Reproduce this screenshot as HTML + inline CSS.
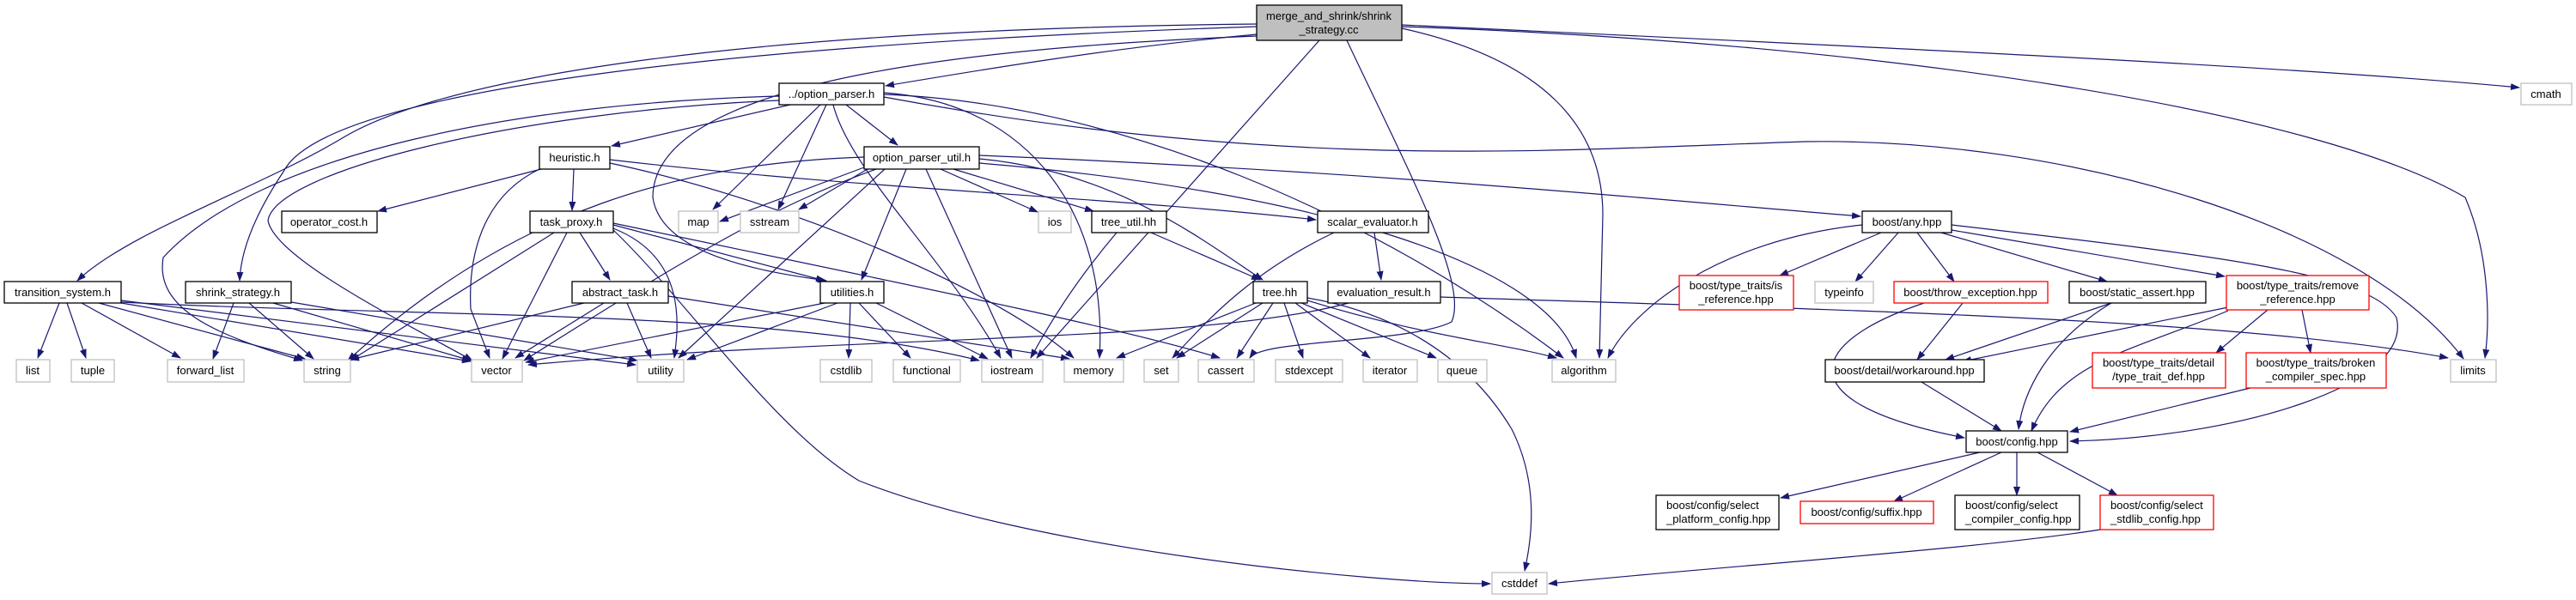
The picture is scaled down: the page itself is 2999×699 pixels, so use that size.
<!DOCTYPE html>
<html><head><meta charset="utf-8"><style>
html,body{margin:0;padding:0;background:#fff;}
svg{display:block;}
text{font-family:"Liberation Sans",Helvetica,Arial,sans-serif;font-size:13px;fill:#000;}
.e{fill:none;stroke:#191970;stroke-width:1.2;marker-end:url(#a);}
.b{fill:#fff;stroke:#000;stroke-width:1.3;}
.g{fill:#fff;stroke:#bfbfbf;stroke-width:1.3;}
.r{fill:#fff;stroke:#ff0000;stroke-width:1.3;}
</style></head><body>
<svg width="2999" height="699" viewBox="0 0 2999 699" xmlns="http://www.w3.org/2000/svg">
<defs><marker id="a" markerWidth="11" markerHeight="8" refX="10" refY="4" orient="auto" markerUnits="userSpaceOnUse"><path d="M0,0 L11,4 L0,8 z" fill="#191970"/></marker></defs>

<!-- edges root -->
<path class="e" d="M1463,40 C1300,55 1150,80 1031,100"/>
<path class="e" d="M1463,28 C800,35 500,100 400,160 C300,220 150,270 90,327"/>
<path class="e" d="M1463,31 C900,50 380,100 330,200 C290,260 280,300 279,327"/>
<path class="e" d="M1463,42 C1000,60 760,120 760,230 C770,300 900,318 962,327"/>
<path class="e" d="M1536,47 L1207,417"/>
<path class="e" d="M1568,47 C1640,200 1710,330 1690,375 C1640,400 1470,395 1455,417"/>
<path class="e" d="M1632,33 C1800,70 1866,150 1866,250 L1862,417"/>
<path class="e" d="M1632,29 C2300,60 2700,80 2933,102"/>
<path class="e" d="M1632,31 C2200,50 2700,130 2870,230 C2900,300 2898,380 2893,417"/>
<!-- option_parser.h -->
<path class="e" d="M920,122 L712,170"/>
<path class="e" d="M985,122 L1045,169"/>
<path class="e" d="M955,122 L830,244"/>
<path class="e" d="M962,122 L906,244"/>
<path class="e" d="M907,112 C600,120 300,180 190,300 C180,360 250,390 352,420"/>
<path class="e" d="M907,117 C600,130 320,200 312,257 C320,300 460,370 550,420"/>
<path class="e" d="M970,122 C990,200 1100,300 1165,417"/>
<path class="e" d="M1029,108 C1200,120 1290,250 1280,417"/>
<path class="e" d="M1029,110 C1300,120 1600,250 1820,417"/>
<path class="e" d="M1029,113 C1500,200 1800,175 2100,165 C2400,160 2750,260 2868,418"/>
<!-- heuristic -->
<path class="e" d="M630,197 L440,246"/>
<path class="e" d="M668,197 L666,245"/>
<path class="e" d="M628,197 C560,230 545,300 548,360 L570,417"/>
<path class="e" d="M710,190 C900,230 1150,330 1250,417"/>
<path class="e" d="M710,186 C1000,220 1300,230 1532,256"/>
<!-- option_parser_util -->
<path class="e" d="M1006,195 L838,258"/>
<path class="e" d="M1010,197 L930,244"/>
<path class="e" d="M1095,197 L1208,247"/>
<path class="e" d="M1110,197 L1273,246"/>
<path class="e" d="M1140,185 C1300,200 1400,280 1470,326"/>
<path class="e" d="M1140,181 C1600,200 1900,230 2166,252"/>
<path class="e" d="M1055,197 L1003,326"/>
<path class="e" d="M1006,183 C800,190 600,240 405,420"/>
<path class="e" d="M1020,197 C900,240 800,300 610,420"/>
<path class="e" d="M1030,197 L790,417"/>
<path class="e" d="M1078,197 L1178,417"/>
<path class="e" d="M1140,190 C1500,220 1800,300 1835,417"/>
<!-- task_proxy -->
<path class="e" d="M675,271 L710,326"/>
<path class="e" d="M714,262 L960,327"/>
<path class="e" d="M645,271 L408,420"/>
<path class="e" d="M660,271 L585,418"/>
<path class="e" d="M714,266 C800,300 790,380 785,417"/>
<path class="e" d="M714,268 C800,350 900,500 1000,560 C1200,640 1600,680 1735,680"/>
<path class="e" d="M714,260 C1000,320 1300,380 1420,417"/>
<!-- transition_system -->
<path class="e" d="M69,353 L44,417"/>
<path class="e" d="M78,353 L100,417"/>
<path class="e" d="M95,353 L210,417"/>
<path class="e" d="M115,353 L355,418"/>
<path class="e" d="M141,353 L548,421"/>
<path class="e" d="M141,350 L740,425"/>
<path class="e" d="M141,352 C500,370 900,360 1140,420"/>
<!-- shrink_strategy -->
<path class="e" d="M272,353 L248,418"/>
<path class="e" d="M290,353 L365,418"/>
<path class="e" d="M318,353 L548,420"/>
<path class="e" d="M339,352 L742,420"/>
<!-- abstract_task -->
<path class="e" d="M680,353 L408,419"/>
<path class="e" d="M703,353 L600,417"/>
<path class="e" d="M730,353 L758,417"/>
<path class="e" d="M778,345 L1245,418"/>
<!-- utilities -->
<path class="e" d="M960,353 L612,422"/>
<path class="e" d="M975,353 L800,419"/>
<path class="e" d="M990,353 L988,417"/>
<path class="e" d="M1000,353 L1060,417"/>
<path class="e" d="M1020,353 L1150,418"/>
<!-- tree_util -->
<path class="e" d="M1340,271 L1467,326"/>
<path class="e" d="M1300,271 C1250,330 1220,380 1200,417"/>
<!-- scalar -->
<path class="e" d="M1600,271 L1608,326"/>
<path class="e" d="M1553,271 C1450,320 1400,380 1365,417"/>
<!-- evaluation_result -->
<path class="e" d="M1677,346 C2100,360 2600,370 2850,417"/>
<path class="e" d="M1570,353 C1400,400 1000,390 615,425"/>
<!-- tree -->
<path class="e" d="M1462,353 L1300,417"/>
<path class="e" d="M1470,353 L1370,417"/>
<path class="e" d="M1482,353 L1440,417"/>
<path class="e" d="M1495,353 L1517,417"/>
<path class="e" d="M1508,353 L1595,417"/>
<path class="e" d="M1515,353 L1672,417"/>
<path class="e" d="M1522,350 C1650,390 1750,400 1812,417"/>
<path class="e" d="M1522,347 C1600,360 1700,400 1760,500 C1790,560 1785,620 1775,665"/>
<!-- boost/any -->
<path class="e" d="M2190,271 L2072,321"/>
<path class="e" d="M2210,271 L2160,328"/>
<path class="e" d="M2232,271 L2275,328"/>
<path class="e" d="M2260,271 L2453,328"/>
<path class="e" d="M2272,268 L2590,322"/>
<path class="e" d="M2168,262 C2000,280 1900,360 1872,417"/>
<path class="e" d="M2272,262 C2600,300 2760,320 2790,370 C2810,450 2600,510 2410,514"/>
<!-- throw/static/remove -->
<path class="e" d="M2285,353 L2232,419"/>
<path class="e" d="M2240,353 C2100,400 2080,470 2287,510"/>
<path class="e" d="M2458,353 L2265,419"/>
<path class="e" d="M2458,353 C2380,400 2355,460 2350,500"/>
<path class="e" d="M2594,358 L2285,421"/>
<path class="e" d="M2594,362 C2480,410 2400,420 2365,502"/>
<path class="e" d="M2640,361 L2580,411"/>
<path class="e" d="M2680,361 L2690,411"/>
<path class="e" d="M2237,445 L2330,502"/>
<path class="e" d="M2620,452 L2410,503"/>
<!-- config -->
<path class="e" d="M2305,527 L2073,580"/>
<path class="e" d="M2330,527 L2205,584"/>
<path class="e" d="M2348,527 L2348,577"/>
<path class="e" d="M2372,527 L2465,577"/>
<path class="e" d="M2445,617 C2300,640 2000,660 1803,680"/>

<!-- nodes -->
<g text-anchor="middle">
<rect x="1463" y="6" width="169" height="41" fill="#bfbfbf" stroke="#000" stroke-width="1.3"/>
<text x="1547" y="23">merge_and_shrink/shrink</text><text x="1547" y="39">_strategy.cc</text>

<rect class="b" x="907" y="97" width="122" height="25"/><text x="968" y="114">../option_parser.h</text>
<rect class="g" x="2935" y="97" width="59" height="25"/><text x="2964" y="114">cmath</text>
<rect class="b" x="628" y="171" width="82" height="26"/><text x="669" y="188">heuristic.h</text>
<rect class="b" x="1006" y="171" width="134" height="26"/><text x="1073" y="188">option_parser_util.h</text>

<rect class="b" x="328" y="246" width="111" height="25"/><text x="383" y="263">operator_cost.h</text>
<rect class="b" x="617" y="246" width="97" height="25"/><text x="665" y="263">task_proxy.h</text>
<rect class="g" x="790" y="246" width="46" height="25"/><text x="813" y="263">map</text>
<rect class="g" x="862" y="246" width="68" height="25"/><text x="896" y="263">sstream</text>
<rect class="g" x="1209" y="246" width="38" height="25"/><text x="1228" y="263">ios</text>
<rect class="b" x="1271" y="246" width="87" height="25"/><text x="1314" y="263">tree_util.hh</text>
<rect class="b" x="1534" y="246" width="129" height="25"/><text x="1598" y="263">scalar_evaluator.h</text>
<rect class="b" x="2168" y="246" width="104" height="25"/><text x="2220" y="263">boost/any.hpp</text>

<rect class="b" x="5" y="328" width="136" height="25"/><text x="73" y="345">transition_system.h</text>
<rect class="b" x="216" y="328" width="123" height="25"/><text x="277" y="345">shrink_strategy.h</text>
<rect class="b" x="666" y="328" width="112" height="25"/><text x="722" y="345">abstract_task.h</text>
<rect class="b" x="955" y="328" width="74" height="25"/><text x="992" y="345">utilities.h</text>
<rect class="b" x="1459" y="328" width="63" height="25"/><text x="1490" y="345">tree.hh</text>
<rect class="b" x="1546" y="328" width="131" height="25"/><text x="1611" y="345">evaluation_result.h</text>
<rect class="r" x="1955" y="321" width="133" height="40"/><text x="2021" y="337">boost/type_traits/is</text><text x="2021" y="353">_reference.hpp</text>
<rect class="g" x="2113" y="328" width="68" height="25"/><text x="2147" y="345">typeinfo</text>
<rect class="r" x="2205" y="328" width="179" height="25"/><text x="2294" y="345">boost/throw_exception.hpp</text>
<rect class="b" x="2409" y="328" width="159" height="25"/><text x="2488" y="345">boost/static_assert.hpp</text>
<rect class="r" x="2592" y="321" width="166" height="40"/><text x="2675" y="337">boost/type_traits/remove</text><text x="2675" y="353">_reference.hpp</text>

<rect class="g" x="19" y="419" width="39" height="26"/><text x="38" y="436">list</text>
<rect class="g" x="83" y="419" width="50" height="26"/><text x="108" y="436">tuple</text>
<rect class="g" x="195" y="419" width="89" height="26"/><text x="239" y="436">forward_list</text>
<rect class="g" x="354" y="419" width="54" height="26"/><text x="381" y="436">string</text>
<rect class="g" x="549" y="419" width="59" height="26"/><text x="578" y="436">vector</text>
<rect class="g" x="742" y="419" width="54" height="26"/><text x="769" y="436">utility</text>
<rect class="g" x="955" y="419" width="60" height="26"/><text x="985" y="436">cstdlib</text>
<rect class="g" x="1040" y="419" width="78" height="26"/><text x="1079" y="436">functional</text>
<rect class="g" x="1143" y="419" width="71" height="26"/><text x="1178" y="436">iostream</text>
<rect class="g" x="1239" y="419" width="69" height="26"/><text x="1273" y="436">memory</text>
<rect class="g" x="1332" y="419" width="40" height="26"/><text x="1352" y="436">set</text>
<rect class="g" x="1395" y="419" width="65" height="26"/><text x="1427" y="436">cassert</text>
<rect class="g" x="1485" y="419" width="78" height="26"/><text x="1524" y="436">stdexcept</text>
<rect class="g" x="1587" y="419" width="63" height="26"/><text x="1618" y="436">iterator</text>
<rect class="g" x="1674" y="419" width="57" height="26"/><text x="1702" y="436">queue</text>
<rect class="g" x="1807" y="419" width="74" height="26"/><text x="1844" y="436">algorithm</text>
<rect class="b" x="2125" y="419" width="185" height="26"/><text x="2217" y="436">boost/detail/workaround.hpp</text>
<rect class="r" x="2436" y="411" width="155" height="41"/><text x="2513" y="427">boost/type_traits/detail</text><text x="2513" y="443">/type_trait_def.hpp</text>
<rect class="r" x="2615" y="411" width="163" height="41"/><text x="2696" y="427">boost/type_traits/broken</text><text x="2696" y="443">_compiler_spec.hpp</text>
<rect class="g" x="2853" y="419" width="53" height="26"/><text x="2879" y="436">limits</text>

<rect class="b" x="2289" y="502" width="118" height="25"/><text x="2348" y="519">boost/config.hpp</text>
<rect class="r" x="2096" y="584" width="155" height="26"/><text x="2173" y="601">boost/config/suffix.hpp</text>
<rect class="g" x="1737" y="667" width="64" height="25"/><text x="1769" y="684">cstddef</text>
</g>
<g text-anchor="start">
<rect class="b" x="1928" y="577" width="143" height="40"/><text x="1940" y="593">boost/config/select</text><text x="1940" y="609">_platform_config.hpp</text>
<rect class="b" x="2276" y="577" width="145" height="40"/><text x="2288" y="593">boost/config/select</text><text x="2288" y="609">_compiler_config.hpp</text>
<rect class="r" x="2445" y="577" width="132" height="40"/><text x="2457" y="593">boost/config/select</text><text x="2457" y="609">_stdlib_config.hpp</text>
</g>
</svg>
</body></html>
